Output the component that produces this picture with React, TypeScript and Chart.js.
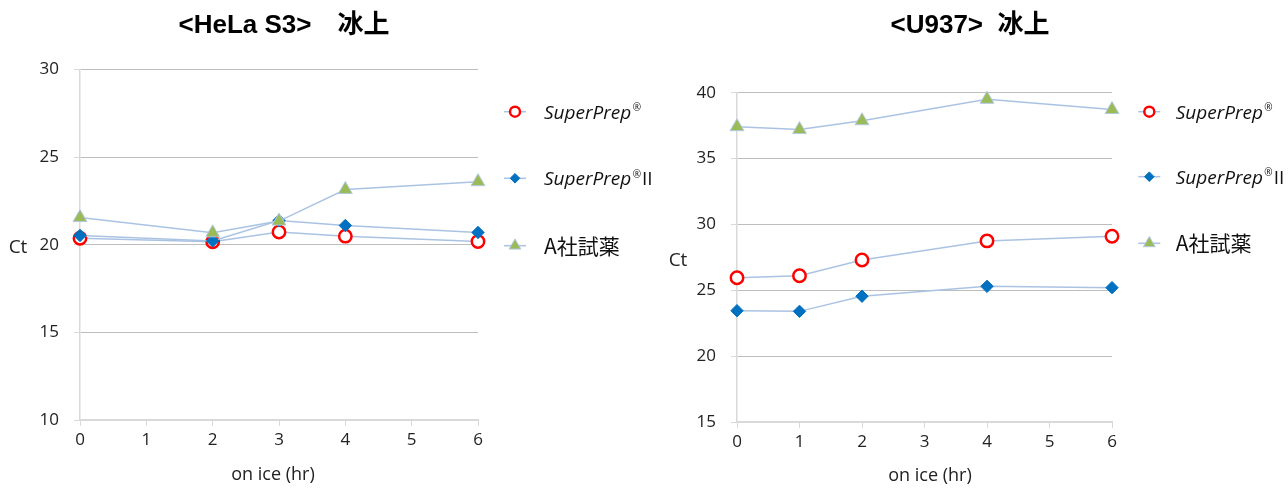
import { useEffect, useRef } from "react";
import { Chart, registerables } from "chart.js";
import { drawPoint } from "chart.js/helpers";

Chart.register(...registerables);

// HeLa S3 on ice
const helaHours = [0, 2, 3, 4, 6];
const helaSuperPrep = [20.37, 20.17, 20.73, 20.49, 20.18];
const helaSuperPrepII = [20.53, 20.22, 21.38, 21.1, 20.7];
const helaAReagent = [21.55, 20.68, 21.35, 23.15, 23.6];
const helaCtTicks = [10, 15, 20, 25, 30];

// U937 on ice
const u937Hours = [0, 1, 2, 4, 6];
const u937SuperPrep = [25.95, 26.1, 27.3, 28.75, 29.1];
const u937SuperPrepII = [23.45, 23.4, 24.55, 25.3, 25.2];
const u937AReagent = [37.42, 37.2, 37.87, 39.5, 38.72];
const u937CtTicks = [15, 20, 25, 30, 35, 40];

const hourTicks = [0, 1, 2, 3, 4, 5, 6];
const seriesLabels = ["SuperPrep®", "SuperPrep®II", "A社試薬"];

const LINE = "#abc3e3";
const TICK_FONT = '"Open Sans", "Noto Sans", sans-serif';
const CJK_FONT = '"Noto Sans CJK JP", "Noto Sans", sans-serif';

const markers = [
  { style: "circle", radius: 6.2, legendRadius: 5, fill: "#ffffff", stroke: "#ff0000", width: 2.5 },
  { style: "rectRot", radius: 6.2, legendRadius: 4.8, fill: "#0070c0", stroke: "#0070c0", width: 1 },
  { style: "triangle", radius: 8, legendRadius: 6.8, fill: "#9bbb59", stroke: "#b3c9e3", width: 1 }
];

type Layout = {
  title: string;
  titleX: number;
  ctX: number;
  ctY: number;
  xTitleX: number;
  xTitleY: number;
  markX: number;
  textX: number;
  legendYs: number[];
  top: number;
  leftW: number;
  right: number;
  bottomH: number;
};

function overlay(o: Layout) {
  return {
    id: "overlay",
    afterDraw(chart: Chart) {
      const ctx = chart.ctx;
      ctx.save();
      ctx.fillStyle = "#000";
      ctx.textAlign = "center";
      ctx.textBaseline = "middle";
      ctx.font = 'bold 26px "Liberation Sans", Arial, "Noto Sans CJK JP", sans-serif';
      ctx.fillText(o.title, o.titleX, 26);

      ctx.fillStyle = "#222";
      ctx.font = "19px " + TICK_FONT;
      ctx.fillText("Ct", o.ctX, o.ctY);
      ctx.font = "18px " + TICK_FONT;
      ctx.fillText("on ice (hr)", o.xTitleX, o.xTitleY);

      // legend
      seriesLabels.forEach((label, i) => {
        const m = markers[i];
        const y = o.legendYs[i];
        ctx.strokeStyle = LINE;
        ctx.lineWidth = 1.5;
        ctx.beginPath();
        ctx.moveTo(o.markX - 11, y);
        ctx.lineTo(o.markX + 11, y);
        ctx.stroke();
        ctx.fillStyle = m.fill;
        ctx.strokeStyle = m.stroke;
        ctx.lineWidth = m.width;
        drawPoint(ctx, { pointStyle: m.style as any, radius: m.legendRadius, borderWidth: m.width, rotation: 0 }, o.markX, y);

        ctx.fillStyle = "#111";
        ctx.textAlign = "left";
        ctx.textBaseline = "alphabetic";
        const base = y + 7;
        if (label.includes("®")) {
          const [head, tail] = label.split("®");
          ctx.font = "italic 19px " + TICK_FONT;
          ctx.fillText(head, o.textX, base);
          let x = o.textX + ctx.measureText(head).width + 1.5;
          ctx.font = "10px " + TICK_FONT;
          ctx.fillText("®", x, base - 7.5);
          x += ctx.measureText("®").width + 1;
          if (tail) {
            ctx.font = "19px " + TICK_FONT;
            ctx.fillText(tail, x, base);
          }
        } else {
          ctx.font = "21px " + CJK_FONT;
          ctx.fillText(label, o.textX, y + 8);
        }
      });
      ctx.restore();
    }
  };
}

function makeConfig(hours: number[], series: number[][], ctTicks: number[], o: Layout): any {
  const yMin = ctTicks[0];
  const yMax = ctTicks[ctTicks.length - 1];
  return {
    type: "line",
    data: {
      datasets: series.map((vals, i) => ({
        label: seriesLabels[i],
        data: vals.map((v, j) => ({ x: hours[j], y: v })),
        borderColor: LINE,
        borderWidth: 1.5,
        pointStyle: markers[i].style,
        pointRadius: markers[i].radius,
        pointBackgroundColor: markers[i].fill,
        pointBorderColor: markers[i].stroke,
        pointBorderWidth: markers[i].width,
        order: 3 - i,
        clip: false,
        tension: 0
      }))
    },
    options: {
      animation: false,
      responsive: true,
      maintainAspectRatio: false,
      layout: { padding: { top: o.top, right: o.right, left: 0, bottom: 0 } },
      plugins: { legend: { display: false }, title: { display: false }, tooltip: { enabled: false } },
      scales: {
        x: {
          type: "linear",
          min: 0,
          max: 6,
          afterBuildTicks: (axis: any) => {
            axis.ticks = hourTicks.map((value) => ({ value }));
          },
          afterFit: (s: any) => {
            s.height = o.bottomH;
          },
          grid: { drawOnChartArea: false, drawTicks: true, tickLength: 6, color: "#d9d9d9", tickColor: "#d9d9d9" },
          border: { color: "#d9d9d9", width: 2 },
          ticks: { padding: 4, color: "#222", font: { family: TICK_FONT, size: 17 } }
        },
        y: {
          type: "linear",
          min: yMin,
          max: yMax,
          afterBuildTicks: (axis: any) => {
            axis.ticks = ctTicks.map((value) => ({ value }));
          },
          afterFit: (s: any) => {
            s.width = o.leftW;
          },
          grid: {
            color: (c: any) => (c.tick && c.tick.value === yMin ? "#d9d9d9" : "#bdbdbd"),
            tickColor: "#d9d9d9",
            tickLength: 6
          },
          border: { color: "#d9d9d9", width: 1.5 },
          ticks: { padding: 15, color: "#222", font: { family: TICK_FONT, size: 17 } }
        }
      }
    },
    plugins: [overlay(o)]
  };
}

function CtChart(props: {
  hours: number[];
  series: number[][];
  ctTicks: number[];
  layout: Layout;
  left: number;
  width: number;
}) {
  const canvasRef = useRef<HTMLCanvasElement>(null);

  useEffect(() => {
    if (!canvasRef.current) return;
    const chart = new Chart(canvasRef.current, makeConfig(props.hours, props.series, props.ctTicks, props.layout));
    return () => chart.destroy();
  }, []);

  return (
    <div style={{ position: "absolute", left: props.left, top: 0, width: props.width, height: 491 }}>
      <canvas ref={canvasRef}></canvas>
    </div>
  );
}

export default function App() {
  // left canvas is 690 wide so its legend can run past the halfway line
  const helaLayout: Layout = {
    title: "<HeLa S3>\u3000冰上",
    titleX: 284,
    ctX: 18,
    ctY: 248,
    xTitleX: 273,
    xTitleY: 475,
    markX: 515,
    textX: 544,
    legendYs: [111.7, 178.3, 245.7],
    top: 69.5,
    leftW: 80,
    right: 212,
    bottomH: 71
  };
  const u937Layout: Layout = {
    title: "<U937>  冰上",
    titleX: 326,
    ctX: 34,
    ctY: 261,
    xTitleX: 286,
    xTitleY: 475.5,
    markX: 505.3,
    textX: 531.7,
    legendYs: [111.7, 176.7, 243.3],
    top: 92.7,
    leftW: 93,
    right: 176,
    bottomH: 69
  };

  return (
    <div style={{ position: "fixed", left: 0, top: 0, width: 1288, height: 491, background: "#fff" }}>
      <CtChart
        hours={helaHours}
        series={[helaSuperPrep, helaSuperPrepII, helaAReagent]}
        ctTicks={helaCtTicks}
        layout={helaLayout}
        left={0}
        width={690}
      />
      <CtChart
        hours={u937Hours}
        series={[u937SuperPrep, u937SuperPrepII, u937AReagent]}
        ctTicks={u937CtTicks}
        layout={u937Layout}
        left={644}
        width={644}
      />
    </div>
  );
}
